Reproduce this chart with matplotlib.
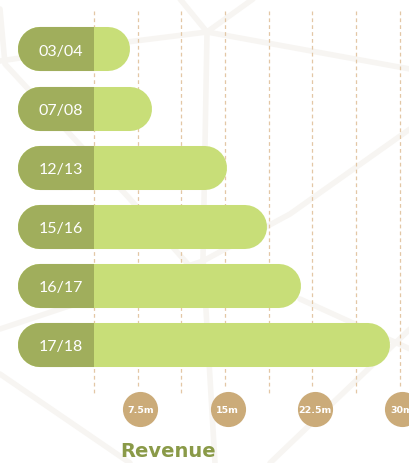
import matplotlib
matplotlib.use("Agg")
import matplotlib.pyplot as plt
from matplotlib.lines import Line2D

# data
seasons = ["03/04", "07/08", "12/13", "15/16", "16/17", "17/18"]
revenue = [6.8, 8.7, 15.2, 18.6, 21.5, 29.2]   # millions
grid_ticks = [3.75, 7.5, 11.25, 15, 18.75, 22.5, 26.25, 30]
label_ticks = [7.5, 15, 22.5, 30]
tick_labels = ["7.5m", "15m", "22.5m", "30m"]

DARK = "#a0ae5c"
LIGHT = "#c8de78"
TAN = "#cbab79"
GRID = "#e3c7a5"

fig = plt.figure(figsize=(4.10, 4.64), dpi=100)
ax = fig.add_axes([0, 0, 1, 1])
ax.set_xlim(-4.33, 30.90)
ax.set_ylim(7.0, -0.854)
ax.axis("off")

# faint network lines in the background (pixel positions -> figure fractions)
bg = [((0, 127, 207, 410), (62, 43, 33, 70)),
      ((180, 207, 253), (0, 33, 0)),
      ((207, 203, 215), (33, 260, 464)),
      ((0, 5, 130, 210), (10, 65, 200, 290)),
      ((410, 290, 203), (130, 215, 262)),
      ((0, 60, 203), (330, 310, 262)),
      ((0, 130), (375, 464)),
      ((270, 410), (464, 330)),
      ((300, 410), (300, 350))]
for xs, ys in bg:
    fig.add_artist(Line2D([x / 410 for x in xs], [1 - y / 464 for y in ys],
                          color="#f7f5f2", lw=4, zorder=0,
                          solid_capstyle="round", solid_joinstyle="round"))

# dashed grid
for g in grid_ticks:
    bottom = 5.74 if g in label_ticks else 5.86
    ax.plot([g, g], [-0.651, bottom], color=GRID, lw=0.9,
            dashes=(3, 2.5), zorder=1)

# pill bars
start = -2.78
r = 1.89          # cap radius in data units (22 px)
lw = 31.7
for i, (s, v) in enumerate(zip(seasons, revenue)):
    ax.plot([start + r, v - r], [i, i], color=LIGHT, lw=lw,
            solid_capstyle="round", zorder=2)
    ax.plot([start + r, 3.75 - r], [i, i], color=DARK, lw=lw,
            solid_capstyle="round", zorder=3)
    ax.plot([start + r, 3.75], [i, i], color=DARK, lw=lw,
            solid_capstyle="butt", zorder=3)
    ax.plot([3.72, 3.75], [i, i], color="#97a553", lw=lw,
            solid_capstyle="butt", zorder=3)
    ax.text(0.9, i + 0.02, s, color="white", fontsize=11.5, family="Lato",
            ha="center", va="center", zorder=4)

# tick bubbles
ax.scatter([t + 0.22 for t in label_ticks], [6.09] * len(label_ticks),
           s=640, color=TAN, zorder=3, clip_on=False, linewidths=0)
for t, lab in zip(label_ticks, tick_labels):
    ax.text(t + 0.22, 6.09, lab, color="white", fontsize=6.8, weight="bold",
            ha="center", va="center", zorder=4, clip_on=False)

fig.text(168 / 410, 1 - 452 / 464, "Revenue", color="#8a9a48", fontsize=14,
         weight="bold", ha="center", va="center")

fig.savefig("out.png", dpi=100, facecolor="white")
